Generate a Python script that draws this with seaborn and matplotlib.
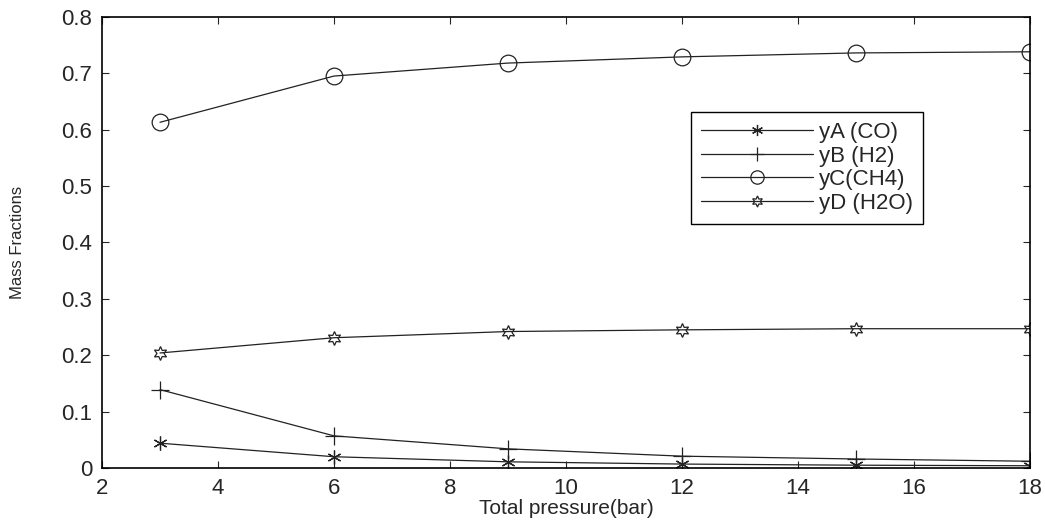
import matplotlib
matplotlib.use("Agg")
import matplotlib.pyplot as plt
import numpy as np
import pandas as pd
import seaborn as sns

# data
pressure = [3, 6, 9, 12, 15, 18]
y_co = [0.044, 0.020, 0.011, 0.007, 0.005, 0.004]
y_h2 = [0.139, 0.057, 0.034, 0.021, 0.016, 0.012]
y_ch4 = [0.613, 0.695, 0.718, 0.729, 0.736, 0.738]
y_h2o = [0.204, 0.231, 0.242, 0.245, 0.247, 0.247]
labels = ["yA (CO)", "yB (H2)", "yC(CH4)", "yD (H2O)"]

sns.set_style("ticks")
plt.rcParams["font.family"] = ["Liberation Sans", "DejaVu Sans"]

fig = plt.figure(figsize=(10.45, 5.21), dpi=100)
ax = fig.add_axes([0.0976, 0.1017, 0.888, 0.866])

series = [y_co, y_h2, y_ch4, y_h2o]
# MATLAB-like markers: asterisk, plus, circle, hexagram
markers = [(6, 2, 0), "+", "o", (6, 1, 0)]
msizes = [10, 13, 12, 10]

for vals, lab, mk, ms in zip(series, labels, markers, msizes):
    sns.lineplot(
        x=pressure,
        y=vals,
        ax=ax,
        color="#222222",
        linewidth=0.9,
        marker=mk,
        markersize=ms,
        markerfacecolor="none",
        markeredgecolor="#222222",
        markeredgewidth=0.9,
        label=lab,
    )

ax.set_xlim(2, 18)
ax.set_ylim(0, 0.8)
ax.set_xticks(np.arange(2, 19, 2))
ax.set_yticks(np.arange(0, 0.81, 0.1))
ax.set_yticklabels(["0"] + [f"{v:.1f}" for v in np.arange(0.1, 0.81, 0.1)])
ax.tick_params(direction="in", top=True, right=True, length=5, width=0.8,
               labelsize=16, pad=7)
for sp in ax.spines.values():
    sp.set_linewidth(1.2)
    sp.set_color("black")

ax.set_xlabel("Total pressure(bar)", fontsize=15, labelpad=0)
ax.set_ylabel("Mass Fractions", fontsize=12, labelpad=26)

leg = ax.legend(
    loc="upper left",
    bbox_to_anchor=(0.628, 0.804),
    handlelength=5.0,
    handletextpad=0.3,
    markerscale=0.8,
    fontsize=16,
    fancybox=False,
    framealpha=1,
    borderpad=0.45,
    borderaxespad=0.3,
    labelspacing=0.12,
)
leg.get_frame().set_edgecolor("black")
leg.get_frame().set_linewidth(1.0)

fig.savefig("out.png", dpi=100)
